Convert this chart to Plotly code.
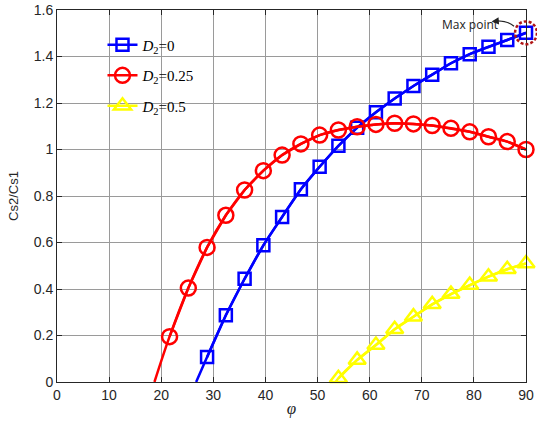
import plotly.graph_objects as go

# D2 = 0 (blue squares)
phi_d0 = [28.8, 32.4, 36, 39.6, 43.2, 46.8, 50.4, 54, 57.6, 61.2, 64.8, 68.4, 72, 75.6, 79.2, 82.8, 86.4, 90]
cs_d0 = [0.107, 0.287, 0.444, 0.588, 0.71, 0.829, 0.926, 1.016, 1.094, 1.16, 1.219, 1.273, 1.322, 1.371, 1.41, 1.442, 1.471, 1.502]
zero_d0 = 26.7

# D2 = 0.25 (red circles)
phi_d25 = [21.6, 25.2, 28.8, 32.4, 36, 39.6, 43.2, 46.8, 50.4, 54, 57.6, 61.2, 64.8, 68.4, 72, 75.6, 79.2, 82.8, 86.4, 90]
cs_d25 = [0.195, 0.404, 0.579, 0.717, 0.826, 0.909, 0.976, 1.024, 1.062, 1.084, 1.098, 1.108, 1.113, 1.11, 1.103, 1.091, 1.076, 1.055, 1.034, 1.0]
zero_d25 = 18.7

# D2 = 0.5 (yellow triangles)
phi_d5 = [54, 57.6, 61.2, 64.8, 68.4, 72, 75.6, 79.2, 82.8, 86.4, 90]
cs_d5 = [0.016, 0.095, 0.159, 0.227, 0.281, 0.334, 0.378, 0.417, 0.453, 0.485, 0.51]
zero_d5 = 53.5

x_ticks = [0, 10, 20, 30, 40, 50, 60, 70, 80, 90]
y_ticks = [0, 0.2, 0.4, 0.6, 0.8, 1, 1.2, 1.4, 1.6]
y_tick_labels = ["0", "0.2", "0.4", "0.6", "0.8", "1", "1.2", "1.4", "1.6"]

# maximum point (phi, Cs2/Cs1)
max_phi = 90
max_val = 1.502

X_MAX = 90
Y_MAX = 1.6

series = [
    ("<i>D</i><sub>2</sub>=0", phi_d0, cs_d0, zero_d0, "#0000FF", "square-open", 12),
    ("<i>D</i><sub>2</sub>=0.25", phi_d25, cs_d25, zero_d25, "#FF0000", "circle-open", 15),
    ("<i>D</i><sub>2</sub>=0.5", phi_d5, cs_d5, zero_d5, "#FFFF00", "triangle-up-open", 15),
]

fig = go.Figure()
for i, (name, xs, ys, z, col, sym, msize) in enumerate(series):
    fig.add_trace(go.Scatter(
        x=[z] + xs, y=[0] + ys, mode="lines", line=dict(color=col, width=2.5, shape="spline"),
        showlegend=False, hoverinfo="skip"))
    fig.add_trace(go.Scatter(
        x=xs, y=ys, mode="lines+markers", name=name, legendgroup=f"g{i}",
        line=dict(color=col, width=2.5), cliponaxis=False,
        marker=dict(symbol=sym, size=msize, color=col, line=dict(width=2.5, color=col))))

axis_common = dict(
    showline=True, linecolor="#262626", linewidth=1, mirror="allticks",
    ticks="inside", ticklen=5, tickcolor="#262626", automargin=False,
    showgrid=True, gridcolor="#9a9a9a", gridwidth=1, zeroline=False,
    tickfont=dict(family="Liberation Sans, Arial", size=14, color="#262626"),
)

fig.update_xaxes(range=[0, X_MAX], tickvals=x_ticks,
                 title=dict(text="<i>φ</i>", font=dict(family="Liberation Serif, Times New Roman", size=17, color="#262626"), standoff=0),
                 **axis_common)
fig.update_yaxes(range=[0, Y_MAX], tickvals=y_ticks, ticktext=y_tick_labels,
                 title=dict(text="Cs2/Cs1", font=dict(family="Liberation Sans, Arial", size=13, color="#262626"), standoff=12),
                 **axis_common)

# Max point highlight (paper coords so it is not clipped by the plot area)
rx, ry = 2.1, 0.049
fig.add_shape(type="circle", xref="paper", yref="paper",
              x0=(max_phi - rx) / X_MAX, x1=(max_phi + rx) / X_MAX,
              y0=(max_val - ry) / Y_MAX, y1=(max_val + ry) / Y_MAX,
              line=dict(color="#B01515", width=2.5, dash="3px,2px"))
fig.add_shape(type="path", xref="x", yref="y",
              path="M 87.7,1.53 Q 86.5,1.555 84.2,1.553",
              line=dict(color="#222222", width=1.2))
fig.add_annotation(x=83.4, y=1.551, ax=84.6, ay=1.553, xref="x", yref="y", axref="x", ayref="y",
                   text="", showarrow=True, arrowhead=2, arrowsize=1.2, arrowwidth=1.2, arrowcolor="#222222")
fig.add_annotation(x=79.2, y=1.537, xref="x", yref="y", text="Max point", showarrow=False,
                   font=dict(family="Open Sans, Noto Sans", size=12, color="#222222"))

fig.update_layout(
    width=537, height=421,
    margin=dict(l=57, r=11, t=10, b=39),
    paper_bgcolor="white", plot_bgcolor="white",
    legend=dict(x=0.097, y=0.95, xanchor="left", yanchor="top", bgcolor="rgba(0,0,0,0)",
                font=dict(family="Liberation Serif, Times New Roman", size=15, color="#000000"),
                tracegroupgap=8),
)

fig.write_html("out.html", config={"displayModeBar": False},
               post_script="document.body.style.margin='0px';document.body.style.overflow='hidden';")
